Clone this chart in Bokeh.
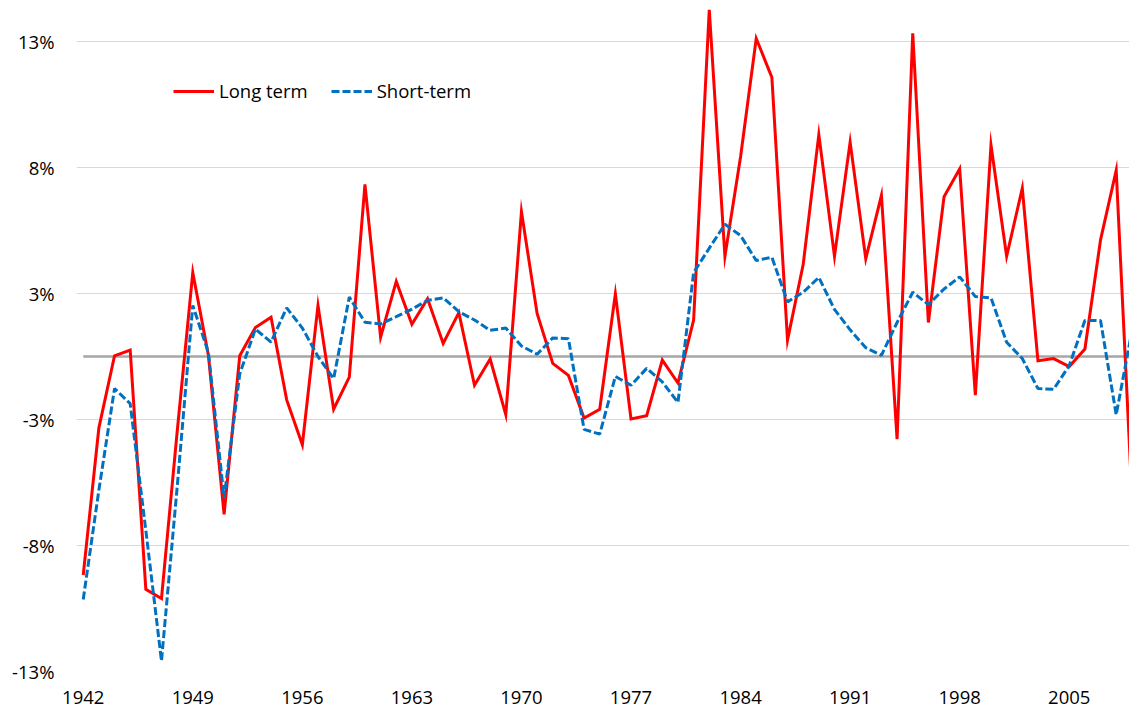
from bokeh.plotting import figure
from bokeh.models import FixedTicker, Legend, LegendItem
from bokeh.embed import file_html
from bokeh.resources import INLINE

years = list(range(1942, 2010))
long_term = [
    -8.67, -2.83, 0.03, 0.26, -9.24, -9.6, -3.0, 3.33, 0.04, -6.26,
    0.03, 1.15, 1.56, -1.72, -3.5, 2.03, -2.09, -0.82, 6.83, 0.77,
    2.98, 1.28, 2.29, 0.52, 1.74, -1.14, -0.1, -2.31, 5.75, 1.71,
    -0.27, -0.75, -2.44, -2.09, 2.49, -2.48, -2.35, -0.14, -1.05, 1.45,
    13.76, 3.98, 7.93, 12.62, 11.08, 0.65, 3.65, 8.81, 3.98, 8.51,
    3.88, 6.4, -3.28, 12.83, 1.35, 6.34, 7.45, -1.53, 8.39, 3.98,
    6.68, -0.17, -0.08, -0.4, 0.3, 4.63, 7.39, -5.5,
]
short_term = [
    -9.64, -5.3, -1.27, -1.87, -6.9, -12.08, -5.2, 2.03, 0.15, -5.61,
    -0.69, 1.09, 0.57, 1.93, 1.13, 0.0, -0.88, 2.36, 1.36, 1.29,
    1.58, 1.88, 2.23, 2.33, 1.78, 1.45, 1.04, 1.13, 0.42, 0.09,
    0.74, 0.71, -2.89, -3.08, -0.79, -1.14, -0.47, -1.01, -1.82, 3.33,
    4.3, 5.25, 4.8, 3.81, 3.94, 2.17, 2.55, 3.14, 1.87, 1.06,
    0.35, 0.05, 1.35, 2.55, 2.06, 2.68, 3.16, 2.38, 2.33, 0.57,
    -0.08, -1.27, -1.3, -0.36, 1.43, 1.43, -2.31, 1.0,
]
zero_line = [0.0] * len(years)
y_ticks = [-12.5, -7.5, -2.5, 2.5, 7.5, 12.5]
y_tick_labels = ["-13%", "-8%", "-3%", "3%", "8%", "13%"]
x_ticks = list(range(1942, 2006, 7))
series_names = ["Long term", "Short-term"]

FONT = "Open Sans"
FS = "18.5px"

p = figure(width=1129, height=710, x_range=(1941.57, 2008.85), y_range=(-12.5, 14.13),
           output_backend="svg", toolbar_location=None,
           min_border_left=76, min_border_right=0, min_border_top=0, min_border_bottom=39)
p.outline_line_color = None
p.background_fill_color = "white"
p.border_fill_color = "white"

for ax in (p.xaxis, p.yaxis):
    ax.axis_line_color = None
    ax.major_tick_line_color = None
    ax.minor_tick_line_color = None
    ax.major_tick_out = 0
    ax.major_tick_in = 0
    ax.major_label_text_font = FONT
    ax.major_label_text_font_size = FS
    ax.major_label_text_color = "#000000"

p.yaxis.ticker = FixedTicker(ticks=y_ticks)
p.yaxis.major_label_overrides = dict(zip(y_ticks, y_tick_labels))
p.yaxis.major_label_standoff = 22
p.xaxis.ticker = FixedTicker(ticks=x_ticks)
p.xaxis.major_label_standoff = 19
p.xaxis.major_label_text_line_height = 0.6

p.xgrid.grid_line_color = None
p.ygrid.ticker = FixedTicker(ticks=y_ticks)
p.ygrid.grid_line_color = "#d9d9d9"
p.ygrid.grid_line_width = 1

p.line(years, zero_line, line_color="#a6a6a6", line_width=2.5)
r_long = p.line(years, long_term, line_color="#ff0000", line_width=3, line_join="miter")
r_short = p.line(years, short_term, line_color="#0070c0", line_width=3, line_dash="8 3")

legend = Legend(items=[LegendItem(label=series_names[0], renderers=[r_long]),
                       LegendItem(label=series_names[1], renderers=[r_short])],
                orientation="horizontal", location=(97, 568),
                padding=0, margin=0, spacing=23, label_standoff=5,
                glyph_width=41, glyph_height=20,
                border_line_alpha=0, background_fill_alpha=0,
                label_text_font=FONT, label_text_font_size=FS, label_text_color="#000000")
p.add_layout(legend, "center")

open("out.html", "w").write(file_html(p, INLINE))
